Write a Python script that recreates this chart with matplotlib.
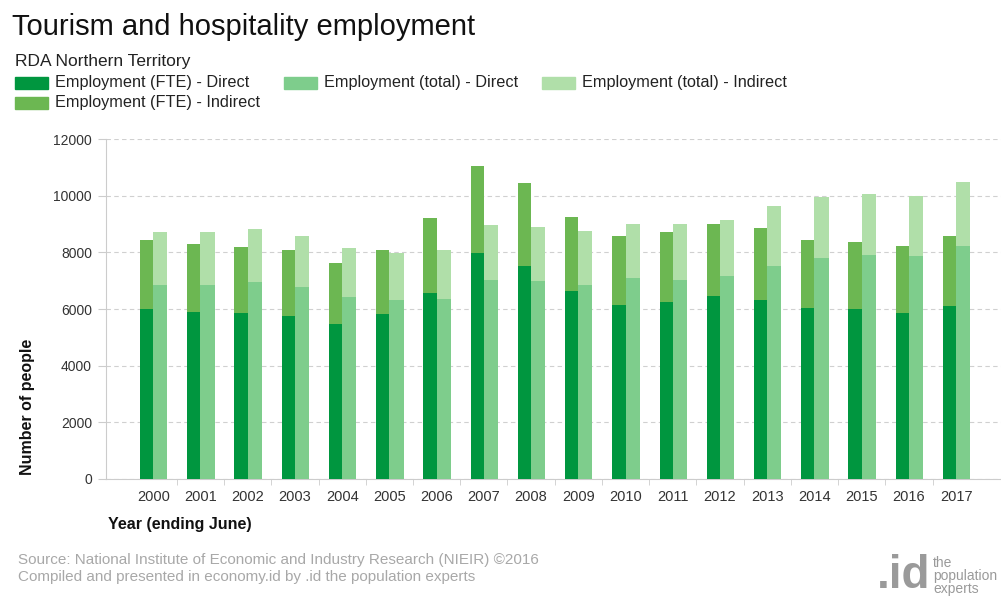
import numpy as np
import matplotlib.pyplot as plt

# Tourism and hospitality employment, RDA Northern Territory
years = [str(y) for y in range(2000, 2018)]

fte_direct = [6000, 5900, 5850, 5760, 5480, 5810, 6570, 7960, 7530, 6620,
              6140, 6240, 6470, 6320, 6040, 5990, 5850, 6090]
fte_indirect = [2430, 2380, 2330, 2340, 2140, 2290, 2630, 3100, 2920, 2620,
                2430, 2470, 2530, 2540, 2390, 2380, 2380, 2480]
total_direct = [6850, 6850, 6950, 6760, 6430, 6320, 6360, 7040, 7000, 6850,
                7100, 7040, 7150, 7530, 7810, 7900, 7860, 8230]
total_indirect = [1860, 1860, 1860, 1810, 1710, 1660, 1740, 1910, 1900, 1910,
                  1900, 1960, 1990, 2090, 2150, 2160, 2130, 2260]

col_fte_direct = "#00963f"
col_fte_indirect = "#6cb752"
col_total_direct = "#7ecd8c"
col_total_indirect = "#b0dfa9"

plt.rcParams['font.family'] = ['Liberation Sans', 'DejaVu Sans']

fig = plt.figure(figsize=(10.01, 5.99), dpi=100)
ax = fig.add_axes([106 / 1001, 1 - 479 / 599, 1 - 106 / 1001, 340 / 599])

x = np.arange(len(years))
w1, w2 = 0.28, 0.30
ax.bar(x - w1 / 2, fte_direct, w1, color=col_fte_direct, zorder=3)
ax.bar(x - w1 / 2, fte_indirect, w1, bottom=fte_direct, color=col_fte_indirect, zorder=3)
ax.bar(x + w2 / 2, total_direct, w2, color=col_total_direct, zorder=3)
ax.bar(x + w2 / 2, total_indirect, w2, bottom=total_direct, color=col_total_indirect, zorder=3)

ax.set_xlim(-1, 17.95)
ax.set_ylim(0, 12000)
ax.set_yticks(range(0, 12001, 2000))
ax.set_xticks(x)
ax.set_xticklabels(years)
ax.set_xticks(x[:-1] + 0.5, minor=True)
ax.tick_params(axis='x', which='major', length=0, pad=8, labelsize=10.5, labelcolor='#333333')
ax.tick_params(axis='x', which='minor', length=4, color='#cccccc')
ax.tick_params(axis='y', length=6, color='#cccccc', pad=4, labelsize=10, labelcolor='#333333')

ax.grid(axis='y', linestyle=(0, (4, 3)), color='#d0d0d0', linewidth=0.8, zorder=0)
for side in ['top', 'right']:
    ax.spines[side].set_visible(False)
ax.spines['left'].set_color('#cccccc')
ax.spines['bottom'].set_color('#cccccc')

# titles
fig.text(12 / 1001, 1 - 35 / 599, "Tourism and hospitality employment", fontsize=21, color='#111111')
fig.text(15 / 1001, 1 - 66 / 599, "RDA Northern Territory", fontsize=12.5, color='#222222')

# legend, laid out in two rows
legend_items = [
    ("Employment (FTE) - Direct", col_fte_direct, 15, 83),
    ("Employment (total) - Direct", col_total_direct, 284, 83),
    ("Employment (total) - Indirect", col_total_indirect, 542, 83),
    ("Employment (FTE) - Indirect", col_fte_indirect, 15, 103),
]
for label, col, lx, ly in legend_items:
    fig.patches.append(plt.Rectangle((lx / 1001, 1 - (ly + 6) / 599), 33 / 1001, 12 / 599,
                                     transform=fig.transFigure, color=col))
    fig.text((lx + 40) / 1001, 1 - ly / 599, label, fontsize=11.7, color='#222222', va='center')

# axis titles
fig.text(28 / 1001, 1 - 407 / 599, "Number of people", rotation=90, fontsize=11.5,
         fontweight='bold', color='#111111', ha='center', va='center')
fig.text(108 / 1001, 1 - 525 / 599, "Year (ending June)", fontsize=11.5,
         fontweight='bold', color='#111111', va='center')

# footer
fig.text(18 / 1001, 1 - 560 / 599,
         "Source: National Institute of Economic and Industry Research (NIEIR) \u00a92016",
         fontsize=11, color='#a8a8a8', va='center')
fig.text(18 / 1001, 1 - 577 / 599,
         "Compiled and presented in economy.id by .id the population experts",
         fontsize=11, color='#a8a8a8', va='center')
fig.text(930 / 1001, 1 - 598 / 599, ".id", fontsize=33, fontweight='bold',
         color='#9a9a9a', ha='right', va='bottom')
fig.text(933 / 1001, 1 - 576 / 599, "the\npopulation\nexperts", fontsize=10,
         color='#9a9a9a', va='center', linespacing=0.92)

fig.savefig("out.png", dpi=100)
